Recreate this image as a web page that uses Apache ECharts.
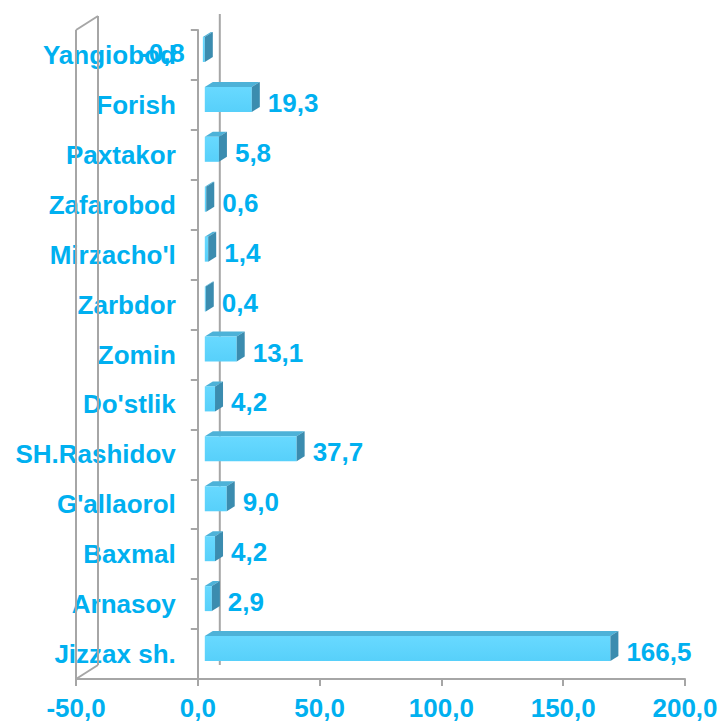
<!DOCTYPE html>
<html>
<head>
<meta charset="utf-8">
<script src="https://cdn.jsdelivr.net/npm/echarts@6/dist/echarts.min.js"></script>
<style>
  html, body { margin: 0; padding: 0; background: #fff; }
  #chart { width: 720px; height: 724px; }
</style>
</head>
<body>
<div id="chart"></div>
<script>
const categories = ['Yangiobod', 'Forish', 'Paxtakor', 'Zafarobod', "Mirzacho'l", 'Zarbdor', 'Zomin', "Do'stlik", 'SH.Rashidov', "G'allaorol", 'Baxmal', 'Arnasoy', 'Jizzax sh.']
const values = [-0.8, 19.3, 5.8, 0.6, 1.4, 0.4, 13.1, 4.2, 37.7, 9.0, 4.2, 2.9, 166.5]
const xMin = -50
const xMax = 200
const xStep = 50

const blue = '#00B0F0'
const gray = '#A6A6A6'
const font = '"Liberation Sans", Arial, sans-serif'

// 1 decimal with comma, like the original
const fmt = v => Number(v).toFixed(1).replace('.', ',')

const barData = values.map((v, i) => [v, i])

// fake 3d bar: front face, top face, right side + value label
function renderBar (params, api) {
  const v = api.value(0)
  const c = api.value(1)
  const zero = api.coord([0, c])
  const end = api.coord([v, c])
  const xl = Math.min(zero[0], end[0]) + 7
  const xr = Math.max(zero[0], end[0]) + 7
  const top = zero[1] - 18
  const bot = zero[1] + 7
  const dx = 8
  const dy = -5
  return {
    type: 'group',
    children: [
      {
        type: 'polygon',
        shape: { points: [[xl, top], [xr, top], [xr + dx, top + dy], [xl + dx, top + dy]] },
        style: { fill: '#4DB2D8' }
      },
      {
        type: 'polygon',
        shape: { points: [[xl, top], [xr, top], [xr, bot], [xl, bot]] },
        style: {
          fill: new echarts.graphic.LinearGradient(0, 0, 0, 1, [
            { offset: 0, color: '#68D9FF' },
            { offset: 1, color: '#57D0FA' }
          ])
        }
      },
      {
        type: 'polygon',
        shape: { points: [[xr, top], [xr + dx, top + dy], [xr + dx, bot + dy], [xr, bot]] },
        style: { fill: '#3B8CAF' }
      },
      {
        type: 'text',
        z2: 10,
        style: {
          x: v >= 0 ? xr + dx + 8 : xl - 18,
          y: zero[1] - 2,
          text: fmt(v),
          align: v >= 0 ? 'left' : 'right',
          verticalAlign: 'middle',
          fill: blue,
          font: 'bold 26px ' + font
        }
      }
    ]
  }
}

// left wall, floor edge and back zero line
function renderWalls (params, api) {
  const cs = params.coordSys
  const L = cs.x
  const T = cs.y
  const B = cs.y + cs.height
  const z0 = api.coord([0, 0])[0]
  const dx = 22
  const dy = -14
  const ls = { stroke: gray, lineWidth: 2, fill: null }
  const line = (x1, y1, x2, y2) => ({ type: 'line', shape: { x1, y1, x2, y2 }, style: ls })
  return {
    type: 'group',
    children: [
      line(L, T, L, B),
      line(L + dx, T + dy, L + dx, B + dy),
      line(L, T, L + dx, T + dy),
      line(L, B, L + dx, B + dy),
      line(z0 + dx, T + dy - 2, z0 + dx, B + dy)
    ]
  }
}

const gridLeft = 76
const chart = echarts.init(document.getElementById('chart'), null, { renderer: 'svg' })

chart.setOption({
  animation: false,
  grid: { left: gridLeft, right: 35, top: 30, bottom: 45, containLabel: false, outerBoundsMode: 'none' },
  xAxis: {
    type: 'value',
    min: xMin,
    max: xMax,
    interval: xStep,
    axisLine: { show: true, onZero: false, lineStyle: { color: gray, width: 2 } },
    axisTick: { show: true, length: 7, lineStyle: { color: gray, width: 2 } },
    splitLine: { show: false },
    axisLabel: {
      margin: 16,
      color: blue,
      fontFamily: font,
      fontWeight: 'bold',
      fontSize: 26,
      hideOverlap: false,
      formatter: v => fmt(v)
    }
  },
  yAxis: {
    type: 'category',
    data: categories,
    inverse: true,
    axisLine: { show: true, onZero: false, lineStyle: { color: gray, width: 2 } },
    axisTick: { show: true, length: 7, lineStyle: { color: gray, width: 2 } },
    splitLine: { show: false },
    axisLabel: {
      margin: 22,
      color: blue,
      fontFamily: font,
      fontWeight: 'bold',
      fontSize: 26
    }
  },
  series: [
    {
      type: 'custom',
      name: 'walls',
      renderItem: renderWalls,
      data: [[0, 0]],
      encode: { x: 0, y: 1 },
      z: 1,
      silent: true
    },
    {
      type: 'custom',
      name: 'bars',
      renderItem: renderBar,
      data: barData,
      encode: { x: 0, y: 1 },
      z: 3
    }
  ]
})

// move the category axis (line, ticks, labels) to x = 0
const zeroX = chart.convertToPixel({ xAxisIndex: 0 }, 0)
chart.setOption({ yAxis: { offset: gridLeft - zeroX } })
</script>
</body>
</html>
